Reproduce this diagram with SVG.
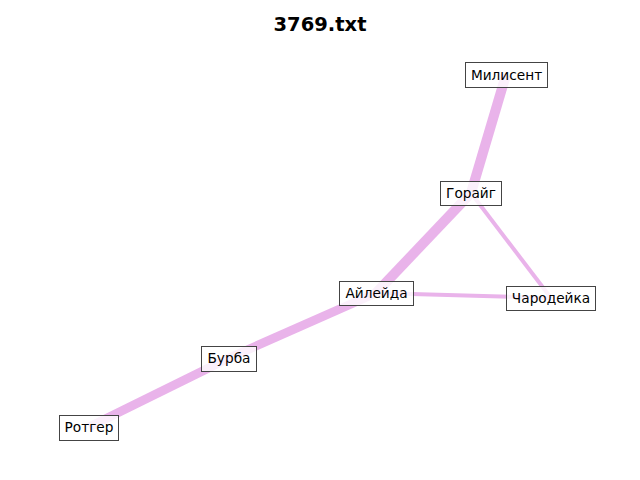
<svg xmlns="http://www.w3.org/2000/svg" width="640" height="480" viewBox="0 0 640 480">
<style>
.e{stroke:#e9b3ea;stroke-linecap:butt;fill:none}
.n rect{fill:#fff;fill-opacity:0.8;stroke:#444;stroke-width:1}
.n text{font-family:"DejaVu Sans",sans-serif;font-size:13.7px;fill:#000;text-anchor:middle}
.t{font-family:"DejaVu Sans",sans-serif;font-size:19.5px;font-weight:bold;text-anchor:middle}
</style>
<rect width="640" height="480" fill="#fff"/>
<text class="t" x="320" y="30.5">3769.txt</text>
<g id="edges">
<line class="e" x1="506" y1="75" x2="471" y2="193" stroke-width="10"/>
<line class="e" x1="471" y1="193" x2="376" y2="293" stroke-width="10"/>
<line class="e" x1="471" y1="193" x2="551" y2="298" stroke-width="4"/>
<line class="e" x1="376" y1="293" x2="551" y2="298" stroke-width="4"/>
<line class="e" x1="376" y1="293" x2="229" y2="358" stroke-width="9"/>
<line class="e" x1="229" y1="358" x2="89" y2="427" stroke-width="9"/>
</g>
<g id="n-milisent" class="n"><rect x="465.5" y="62.5" width="82" height="25"/><text x="506.5" y="79.5">Милисент</text></g>
<g id="n-goraig" class="n"><rect x="440.5" y="181.5" width="61" height="24"/><text x="471" y="197.5">Горайг</text></g>
<g id="n-aileida" class="n"><rect x="339.5" y="281.5" width="74" height="24"/><text x="376.5" y="297.5">Айлейда</text></g>
<g id="n-charodeika" class="n"><rect x="506.5" y="286.5" width="89" height="24"/><text x="551" y="302.5">Чародейка</text></g>
<g id="n-burba" class="n"><rect x="201.5" y="346.5" width="55" height="25"/><text x="229" y="363">Бурба</text></g>
<g id="n-rotger" class="n"><rect x="59.5" y="415.5" width="59" height="25"/><text x="89" y="432">Ротгер</text></g>
</svg>
